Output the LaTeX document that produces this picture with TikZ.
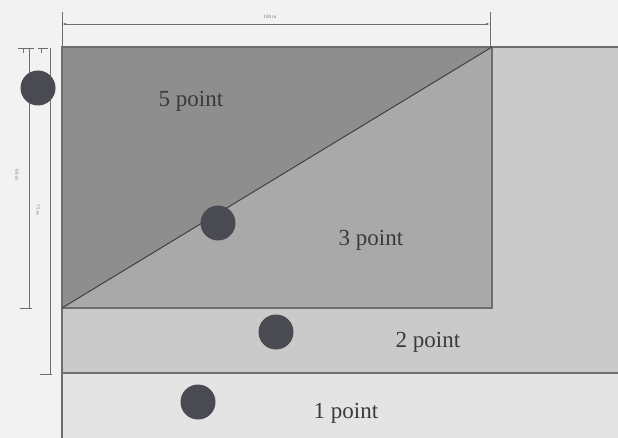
\documentclass[tikz,border=0pt]{standalone}
\usepackage{fontspec}
\setmainfont{Liberation Serif}
\usetikzlibrary{arrows.meta}
\definecolor{bgc}{HTML}{F2F2F2}
\definecolor{darkz}{HTML}{8E8E8E}
\definecolor{midz}{HTML}{A9A9A9}
\definecolor{lightz}{HTML}{CACACA}
\definecolor{palez}{HTML}{E4E4E4}
\definecolor{edgec}{HTML}{6E6E6E}
\definecolor{dotc}{HTML}{4A4A52}
\definecolor{txtc}{HTML}{3A3A3A}
\tikzset{
  zonelabel/.style={font=\fontsize{23}{23}\selectfont, text=txtc, inner sep=0pt},
  dimlabel/.style={font=\fontsize{5}{5}\selectfont, text=txtc!70, inner sep=0pt},
  ball/.style={circle, fill=dotc, minimum size=35pt, inner sep=0pt},
  edgeline/.style={draw=edgec, line width=1.4pt},
  dimline/.style={draw=edgec, line width=0.8pt},
}
\begin{document}
\begin{tikzpicture}[x=1pt, y=-1pt]
\useasboundingbox (0,0) rectangle (618,438);
\fill[bgc] (0,0) rectangle (618,438);
% zones
\fill[palez] (62,373) rectangle (618,438);
\fill[lightz] (62,47) rectangle (618,373);
\fill[midz] (62,47) rectangle (492,308);
\fill[darkz] (62,47) -- (492,47) -- (62,308) -- cycle;
% coordinates
\coordinate (tl) at (62,47);
\coordinate (tr) at (492,47);
\coordinate (bl) at (62,308);
\coordinate (br) at (492,308);
\coordinate (re) at (618,47);
\coordinate (l2) at (62,373);
\coordinate (r2) at (618,373);
\coordinate (lb) at (62,438);
% edges
\draw[edgeline] (re) -- (tl) -- (lb);
\draw[edgeline] (tr) -- (br) -- (bl);
\draw[edgeline] (l2) -- (r2);
\draw[draw=black!75, line width=1pt] (bl) -- (tr);
% top dimension
\coordinate (d1a) at (62,12);
\coordinate (d1b) at (490,12);
\coordinate (d1c) at (62,24);
\coordinate (d1d) at (490,24);
\draw[dimline] (d1a) -- (tl);
\draw[dimline] (d1b) -- (490,47);
\draw[dimline, {Latex[length=4pt,width=2.5pt]}-{Latex[length=4pt,width=2.5pt]}] (d1c) -- (d1d);
\node[dimlabel] (w) at (270,17) {100 m};
% left dimensions
\coordinate (a1) at (29,48);
\coordinate (a2) at (29,308);
\coordinate (b1) at (50,48);
\coordinate (b2) at (50,374);
\draw[dimline] (a1) -- (a2);
\draw[dimline] (b1) -- (b2);
\draw[dimline] (18,48) -- (34,48);
\draw[dimline] (23,48) -- (23,53);
\draw[dimline] (38,48) -- (48,48);
\draw[dimline] (41,48) -- (41,53);
\draw[dimline] (20,308) -- (32,308);
\draw[dimline] (40,374) -- (52,374);
\node[dimlabel, rotate=-90] (h1) at (17,175) {60 m};
\node[dimlabel, rotate=-90] (h2) at (38,210) {75 m};
% balls
\node[ball] (p5) at (38,88) {};
\node[ball] (p3) at (218,223) {};
\node[ball] (p2) at (276,332) {};
\node[ball] (p1) at (198,402) {};
% labels
\node[zonelabel] (t5) at (191,101) {5 point};
\node[zonelabel] (t3) at (371,240) {3 point};
\node[zonelabel] (t2) at (428,342) {2 point};
\node[zonelabel] (t1) at (346,413) {1 point};
\end{tikzpicture}
\end{document}
